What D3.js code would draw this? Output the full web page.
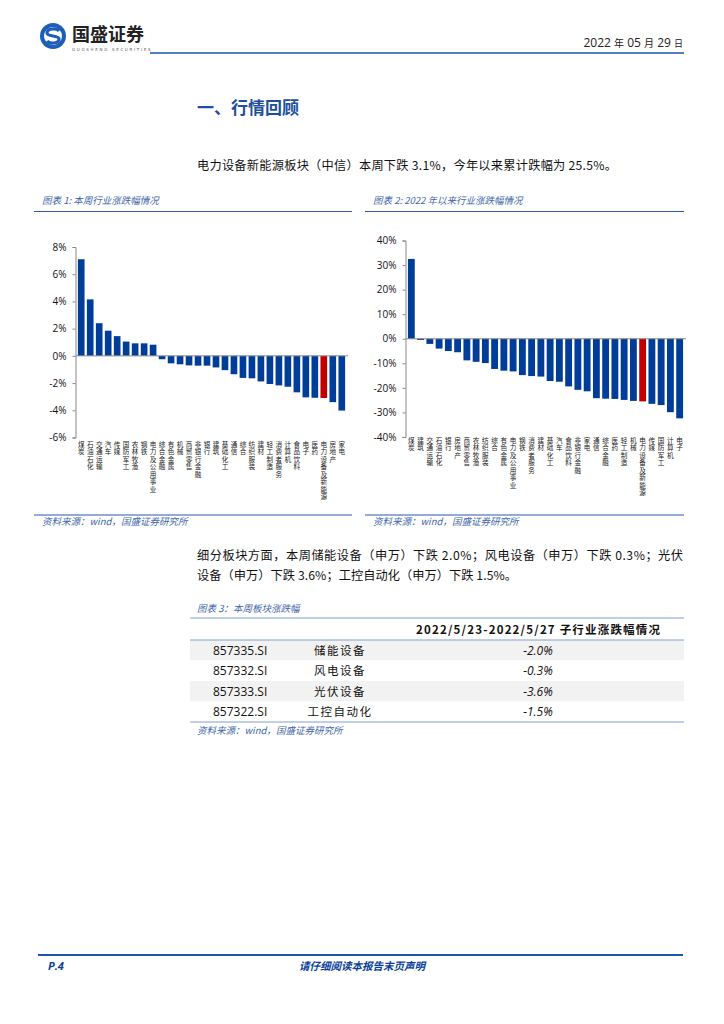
<!DOCTYPE html>
<html>
<head>
<meta charset="utf-8">
<script src="https://cdn.jsdelivr.net/npm/d3@7"></script>
<style>
  body { margin: 0; background: #fff; }
  svg text { font-family: "Noto Sans CJK SC", "DejaVu Sans", sans-serif; }
</style>
</head>
<body>
<div id="page"></div>
<script>
// chart 1: weekly change by industry (%)
const weekCats = ['煤炭', '石油石化', '交通运输', '汽车', '传媒', '国防军工', '农林牧渔', '钢铁', '电力及公用事业',
  '综合金融', '有色金属', '机械', '商贸零售', '非银行金融', '银行', '建筑', '基础化工', '通信', '综合', '纺织服装',
  '建材', '轻工制造', '消费者服务', '计算机', '食品饮料', '电子', '医药', '电力设备及新能源', '房地产', '家电']
const weekVals = [7.1, 4.15, 2.4, 1.85, 1.45, 1.05, 0.92, 0.92, 0.82,
  -0.25, -0.55, -0.62, -0.7, -0.72, -0.72, -0.85, -1.05, -1.35, -1.62, -1.65,
  -1.88, -2.07, -2.17, -2.27, -2.68, -3.05, -3.08, -3.1, -3.4, -4.02]
const weekTicks = [8, 6, 4, 2, 0, -2, -4, -6]

// chart 2: year-to-date change by industry (%)
const ytdCats = ['煤炭', '建筑', '交通运输', '石油石化', '银行', '房地产', '商贸零售', '农林牧渔', '纺织服装', '综合',
  '有色金属', '电力及公用事业', '钢铁', '消费者服务', '建材', '基础化工', '汽车', '食品饮料', '非银行金融', '家电',
  '通信', '综合金融', '医药', '轻工制造', '机械', '电力设备及新能源', '传媒', '国防军工', '计算机', '电子']
const ytdVals = [32.5, -0.5, -2.1, -4.0, -5.0, -5.5, -8.8, -9.4, -9.9, -12.3,
  -13.0, -13.3, -14.8, -15.2, -15.4, -17.2, -17.5, -19.4, -20.8, -21.4,
  -24.2, -24.4, -24.5, -24.9, -25.3, -25.5, -26.5, -27.0, -29.9, -32.4]
const ytdTicks = [40, 30, 20, 10, 0, -10, -20, -30, -40]

// table 3
const tableCodes = ['857335.SI', '857332.SI', '857333.SI', '857322.SI']
const tableNames = ['储能设备', '风电设备', '光伏设备', '工控自动化']
const tableVals = ['-2.0%', '-0.3%', '-3.6%', '-1.5%']

const blue = '#0a3f97'
const barBlue = '#003d99'
const lineBlue = '#2a5aa8'
const highlight = '电力设备及新能源'

const svg = d3.select('#page').append('svg')
  .attr('width', 724)
  .attr('height', 1024)

// ---- header ----
const logo = svg.append('g').attr('transform', 'translate(53,36)')
logo.append('circle').attr('r', 13).attr('fill', '#1d5fb8')
logo.append('circle').attr('r', 9).attr('fill', '#fff')
logo.append('path')
  .attr('d', 'M6,-5 C4,-8 -6,-8 -6,-3 C-6,1 6,-1 6,3 C6,8 -4,8 -6,5')
  .attr('fill', 'none').attr('stroke', '#1d5fb8').attr('stroke-width', 3.2)
svg.append('text').attr('x', 72).attr('y', 41)
  .attr('font-size', 18).attr('font-weight', 'bold').attr('fill', '#222')
  .text('国盛证券')
svg.append('text').attr('x', 72).attr('y', 51)
  .attr('font-size', 4).attr('letter-spacing', 1.7).attr('fill', '#555')
  .style('font-family', 'DejaVu Sans')
  .text('GUOSHENG SECURITIES')
svg.append('line').attr('x1', 150).attr('x2', 684).attr('y1', 53).attr('y2', 53)
  .attr('stroke', '#1d56a8').attr('stroke-width', 1.6)
const dateT = svg.append('text').attr('x', 683).attr('y', 47).attr('text-anchor', 'end')
  .attr('fill', '#222').attr('font-size', 12)
dateT.append('tspan').style('font-family', 'Open Sans').text('2022 ')
dateT.append('tspan').attr('font-size', 10).text('年')
dateT.append('tspan').style('font-family', 'Open Sans').text(' 05 ')
dateT.append('tspan').attr('font-size', 10).text('月')
dateT.append('tspan').style('font-family', 'Open Sans').text(' 29 ')
dateT.append('tspan').attr('font-size', 9).text('日')

// ---- body text ----
svg.append('text').attr('x', 197).attr('y', 114)
  .attr('font-size', 17).attr('font-weight', 'bold').attr('fill', '#1d4f9e')
  .text('一、行情回顾')

svg.append('text').attr('x', 197).attr('y', 170)
  .attr('font-size', 12.2).attr('fill', '#111')
  .attr('textLength', 420).attr('lengthAdjust', 'spacing')
  .text('电力设备新能源板块（中信）本周下跌 3.1%，今年以来累计跌幅为 25.5%。')

function caption(x, y, txt) {
  svg.append('text').attr('x', x).attr('y', y)
    .attr('font-size', 9.5).attr('font-style', 'italic').attr('fill', '#3f66a8')
    .text(txt)
}
caption(42, 204, '图表 1:  本周行业涨跌幅情况')
caption(373, 204, '图表 2:  2022 年以来行业涨跌幅情况')
svg.append('line').attr('x1', 34).attr('x2', 352).attr('y1', 211.5).attr('y2', 211.5).attr('stroke', lineBlue).attr('stroke-width', 1.2)
svg.append('line').attr('x1', 365).attr('x2', 684).attr('y1', 211.5).attr('y2', 211.5).attr('stroke', lineBlue).attr('stroke-width', 1.2)
svg.append('line').attr('x1', 34).attr('x2', 352).attr('y1', 515).attr('y2', 515).attr('stroke', lineBlue).attr('stroke-width', 1.2)
svg.append('line').attr('x1', 365).attr('x2', 684).attr('y1', 515).attr('y2', 515).attr('stroke', lineBlue).attr('stroke-width', 1.2)
caption(42, 525, '资料来源：wind，国盛证券研究所')
caption(373, 525, '资料来源：wind，国盛证券研究所')

// ---- bar charts ----
function barChart(opts) {
  const g = svg.append('g')
  const y = d3.scaleLinear().domain(opts.domain).range([opts.bottom, opts.top])
  const x = d3.scaleBand().domain(opts.cats).range([opts.left + 1.5, opts.right]).paddingInner(0.26).paddingOuter(0.1)

  const axis = d3.axisLeft(y).tickValues(opts.ticks).tickSize(3).tickFormat(d => d + '%')
  const ag = g.append('g').attr('transform', `translate(${opts.left},0)`).call(axis)
  ag.select('.domain').attr('stroke', '#888')
  ag.selectAll('.tick line').attr('stroke', '#888')
  ag.selectAll('.tick text').attr('font-size', 10).attr('fill', '#111')
    .style('font-family', 'Open Sans').attr('dx', -3)

  g.selectAll('rect')
    .data(opts.vals)
    .enter()
    .append('rect')
    .attr('x', (d, i) => x(opts.cats[i]))
    .attr('width', x.bandwidth())
    .attr('y', d => y(Math.max(0, d)))
    .attr('height', d => Math.abs(y(d) - y(0)))
    .attr('fill', (d, i) => opts.cats[i] === highlight ? '#c00000' : barBlue)

  g.append('line').attr('x1', opts.left).attr('x2', opts.right + 2)
    .attr('y1', y(0)).attr('y2', y(0)).attr('stroke', '#888').attr('stroke-width', 1)

  // vertical category labels (top-to-bottom writing)
  g.selectAll('text.lab')
    .data(opts.cats)
    .enter()
    .append('text')
    .attr('class', 'lab')
    .attr('x', d => x(d) + x.bandwidth() / 2)
    .attr('y', opts.labelY)
    .style('writing-mode', 'vertical-rl')
    .attr('letter-spacing', 0.9)
    .attr('font-size', 6.6)
    .attr('fill', '#222')
    .text(d => d)
}

barChart({
  cats: weekCats, vals: weekVals, ticks: weekTicks, domain: [-6, 8],
  left: 75.5, right: 346, top: 247, bottom: 437.5, labelY: 441
})
barChart({
  cats: ytdCats, vals: ytdVals, ticks: ytdTicks, domain: [-40, 40],
  left: 405.5, right: 684, top: 240.5, bottom: 437, labelY: 437
})

// ---- paragraph 2 ----
svg.append('text').attr('x', 197).attr('y', 560).attr('font-size', 12.2).attr('fill', '#111')
  .attr('textLength', 486).attr('lengthAdjust', 'spacing')
  .text('细分板块方面，本周储能设备（申万）下跌 2.0%；风电设备（申万）下跌 0.3%；光伏')
svg.append('text').attr('x', 197).attr('y', 580).attr('font-size', 12.2).attr('fill', '#111')
  .attr('textLength', 320).attr('lengthAdjust', 'spacing')
  .text('设备（申万）下跌 3.6%；工控自动化（申万）下跌 1.5%。')

// ---- table ----
caption(197, 612, '图表 3：本周板块涨跌幅')
const tLeft = 190, tRight = 684, headTop = 618, headBottom = 640, rowH = 20.5
const rowY = d3.scaleBand().domain(tableCodes).range([headBottom, headBottom + rowH * tableCodes.length])
const tbl = svg.append('g')
tbl.selectAll('rect.row')
  .data(tableCodes)
  .enter()
  .append('rect')
  .attr('class', 'row')
  .attr('x', tLeft).attr('width', tRight - tLeft)
  .attr('y', d => rowY(d)).attr('height', rowY.bandwidth())
  .attr('fill', (d, i) => i % 2 === 0 ? '#f2f2f2' : '#fff')
tbl.append('line').attr('x1', tLeft).attr('x2', tRight).attr('y1', headTop).attr('y2', headTop).attr('stroke', '#7f9fd0').attr('stroke-width', 1.2)
tbl.append('line').attr('x1', tLeft).attr('x2', tRight).attr('y1', headBottom).attr('y2', headBottom).attr('stroke', '#7f9fd0').attr('stroke-width', 1.2)
const tBottom = headBottom + rowH * tableCodes.length
tbl.append('line').attr('x1', tLeft).attr('x2', tRight).attr('y1', tBottom).attr('y2', tBottom).attr('stroke', '#7f9fd0').attr('stroke-width', 1.2)
tbl.append('text').attr('x', 416).attr('y', 634).attr('font-size', 11.5).attr('font-weight', 'bold').attr('fill', '#111')
  .attr('textLength', 244).attr('lengthAdjust', 'spacing')
  .text('2022/5/23-2022/5/27 子行业涨跌幅情况')
tableCodes.forEach((c, i) => {
  const cy = rowY(c) + rowY.bandwidth() / 2 + 4.3
  tbl.append('text').attr('x', 213).attr('y', cy).attr('font-size', 12).attr('fill', '#111')
    .style('font-family', 'Open Sans').text(c)
  tbl.append('text').attr('x', 340).attr('y', cy).attr('font-size', 11.5).attr('fill', '#111')
    .attr('text-anchor', 'middle').attr('letter-spacing', 1.5).text(tableNames[i])
  tbl.append('text').attr('x', 538).attr('y', cy).attr('font-size', 12).attr('fill', '#111')
    .attr('text-anchor', 'middle').attr('font-style', 'italic')
    .style('font-family', 'Open Sans').text(tableVals[i])
})
caption(197, 734, '资料来源：wind，国盛证券研究所')

// ---- footer ----
svg.append('line').attr('x1', 38).attr('x2', 683).attr('y1', 955).attr('y2', 955)
  .attr('stroke', '#1d56a8').attr('stroke-width', 1.8)
svg.append('text').attr('x', 48).attr('y', 970).attr('font-size', 11).attr('font-weight', 'bold')
  .attr('font-style', 'italic').attr('fill', blue).style('font-family', 'Open Sans').text('P.4')
svg.append('text').attr('x', 362).attr('y', 970).attr('text-anchor', 'middle').attr('font-size', 10.5)
  .attr('font-weight', 'bold').attr('font-style', 'italic').attr('fill', blue)
  .text('请仔细阅读本报告末页声明')
</script>
</body>
</html>
